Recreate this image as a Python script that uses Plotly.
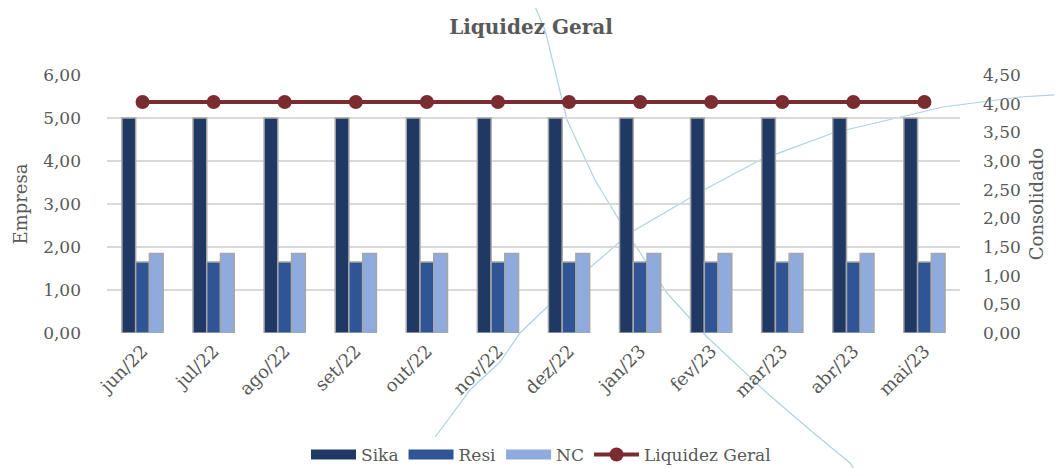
import plotly.graph_objects as go

meses = ["jun/22", "jul/22", "ago/22", "set/22", "out/22", "nov/22",
         "dez/22", "jan/23", "fev/23", "mar/23", "abr/23", "mai/23"]
sika = [5.00] * 12
resi = [1.65] * 12
nc = [1.85] * 12
liquidez_geral = [4.03] * 12

FONT = "DejaVu Serif"
GREY = "#595959"

# page is drawn with an 8px body margin, so the figure is shrunk by that offset
OFF = 8
W, H = 1062, 468
ML, MR, MT, MB = 107, 102, 75, 135          # plot area in page pixels
PW, PH = W - ML - MR, H - MT - MB


def to_paper(pts):
    return [((x - ML) / PW, (H - MB - y) / PH) for x, y in pts]


def path_of(pts):
    p = to_paper(pts)
    return "M " + " L ".join(f"{x:.4f},{y:.4f}" for x, y in p)


# decorative background arcs (page pixels)
curva_1 = [(530, -5), (545, 30), (567, 120), (595, 180), (627, 233), (667, 293),
           (707, 337), (767, 393), (810, 430), (850, 463), (858, 475)]
curva_2 = [(410, 475), (433, 440), (470, 390), (500, 362), (520, 333), (570, 285),
           (630, 233), (700, 192), (760, 160), (833, 133), (943, 107), (1020, 97), (1070, 94)]


def fnt(size):
    return dict(family=FONT, size=size, color=GREY)


series = [("Sika", sika, "#203864"), ("Resi", resi, "#2F5597"), ("NC", nc, "#8FAADC")]

fig = go.Figure()

for nome, vals, cor in series:
    fig.add_trace(go.Bar(x=meses, y=vals, name=nome, legendgroup=nome, showlegend=False,
                         marker=dict(color=cor, line=dict(color="#A6A6A6", width=1.5))))
    # wide legend swatch like the Excel one
    fig.add_trace(go.Scatter(x=[None], y=[None], name=nome, legendgroup=nome,
                             mode="lines", line=dict(color=cor, width=12)))

fig.add_trace(go.Scatter(x=meses, y=liquidez_geral, name="Liquidez Geral", yaxis="y2",
                         mode="lines+markers",
                         line=dict(color="#7B2C31", width=4),
                         marker=dict(color="#7B2C31", size=14)))

for c in (curva_1, curva_2):
    fig.add_shape(type="path", path=path_of(c), xref="paper", yref="paper",
                  line=dict(color="#AED3E3", width=1.2), layer="below")

fig.update_layout(
    width=W - OFF, height=H - OFF,
    margin=dict(l=ML - OFF, r=MR, t=MT - OFF, b=MB, autoexpand=False),
    paper_bgcolor="white", plot_bgcolor="white",
    font=fnt(17),
    separators=",.",
    title=dict(text="<b>Liquidez Geral</b>", x=(W / 2 - OFF) / (W - OFF), xanchor="center",
               y=1 - (27 - OFF) / (H - OFF), yanchor="middle", font=fnt(20)),
    barmode="group", bargap=0.42, bargroupgap=0,
    xaxis=dict(range=[-0.5, 11.5], tickangle=-45, tickfont=fnt(18), showgrid=False,
               automargin=False, showline=False, ticks="", ticklabelstandoff=3),
    yaxis=dict(range=[0, 6], dtick=1, tickformat=".2f", showgrid=True,
               gridcolor="#D9D9D9", gridwidth=1.5, zeroline=False, automargin=False,
               tickfont=fnt(17), ticklabelstandoff=25,
               title=dict(text="Empresa", font=fnt(18), standoff=10)),
    yaxis2=dict(range=[0, 4.5], dtick=0.5, tickformat=".2f", overlaying="y", side="right",
                showgrid=False, zeroline=False, automargin=False,
                tickfont=fnt(17), ticklabelstandoff=22,
                title=dict(text="Consolidado", font=fnt(18), standoff=10)),
    legend=dict(orientation="h", x=(541 - ML) / PW, xanchor="center", y=(H - MB - 455) / PH,
                yanchor="middle", font=fnt(17), traceorder="normal", itemwidth=45),
)

fig.write_html("out.html")
